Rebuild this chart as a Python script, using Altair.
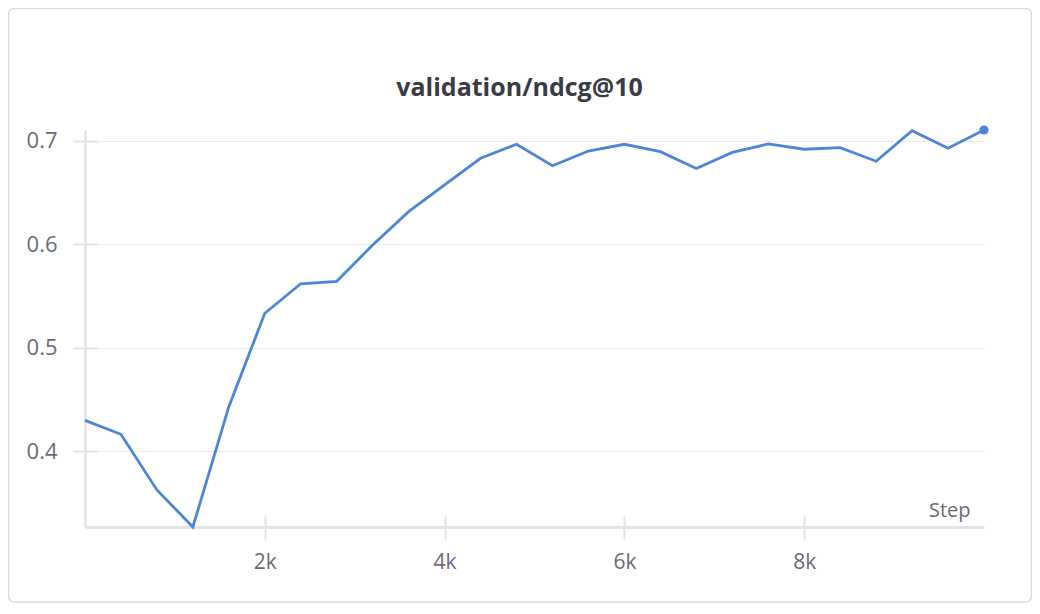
import altair as alt
import pandas as pd

# ---- data ----
steps = [0, 400, 800, 1200, 1600, 2000, 2400, 2800, 3200, 3600, 4000, 4400, 4800,
         5200, 5600, 6000, 6400, 6800, 7200, 7600, 8000, 8400, 8800, 9200, 9600, 10000]
ndcg = [0.430, 0.4166, 0.3628, 0.327, 0.4433, 0.5335, 0.562, 0.5644, 0.5995, 0.6317,
        0.6575, 0.6833, 0.6968, 0.6761, 0.6903, 0.6968, 0.6897, 0.6734, 0.6890, 0.6971,
        0.692, 0.6935, 0.6804, 0.710, 0.693, 0.7106]
x_ticks = [2000, 4000, 6000, 8000]
y_ticks = [0.4, 0.5, 0.6, 0.7]
chart_title = "validation/ndcg@10"
x_title = "Step"

FONT = "Open Sans"
BLUE = "#4d86d6"
AXIS_GREY = "#e3e3e6"
GRID_GREY = "#ececee"
LABEL_GREY = "#6b6b76"
TITLE_GREY = "#3b3b44"

df = pd.DataFrame({"step": steps, "ndcg": ndcg})
df_last = df.tail(1)

x_scale = alt.Scale(domain=[min(steps), max(steps)], nice=False, zero=False)
y_scale = alt.Scale(domain=[min(ndcg), max(ndcg)], nice=False, zero=False)

W, H = 899, 397

x_axis = alt.Axis(
    values=x_ticks, format="~s", orient="bottom",
    title=x_title, titleFont=FONT, titleFontSize=20, titleFontWeight="normal",
    titleColor=LABEL_GREY, titleAnchor="end", titleAlign="right",
    titleBaseline="alphabetic", titleX=885, titleY=-11,
    labelFont=FONT, labelFontSize=21, labelColor=LABEL_GREY, labelPadding=12,
    domainColor=AXIS_GREY, domainWidth=3,
    tickColor=AXIS_GREY, tickWidth=2, tickSize=12,
    grid=False,
)
y_axis = alt.Axis(
    values=y_ticks, format=".1f", orient="left", title="",
    labelFont=FONT, labelFontSize=22, labelColor=LABEL_GREY, labelPadding=16,
    domainColor=AXIS_GREY, domainWidth=2.5,
    tickColor=AXIS_GREY, tickWidth=2, tickSize=12,
    grid=True, gridColor=GRID_GREY, gridWidth=1,
)
x_inner = alt.Axis(values=x_ticks, orient="bottom", title="", labels=False,
                   domain=False, grid=False, offset=-11, tickSize=11,
                   tickColor=AXIS_GREY, tickWidth=2)
y_inner = alt.Axis(values=y_ticks, orient="left", title="", labels=False,
                   domain=False, grid=False, offset=-12, tickSize=12,
                   tickColor=AXIS_GREY, tickWidth=2)

card = alt.Chart(pd.DataFrame({"a": [0]})).mark_rect(
    fillOpacity=0, stroke="#d9d9dc", strokeWidth=1.5, cornerRadius=6
).encode(
    x=alt.value(-76.5), x2=alt.value(946.5), y=alt.value(-121.5), y2=alt.value(472)
)

line = alt.Chart(df).mark_line(color=BLUE, strokeWidth=2.8).encode(
    x=alt.X("step:Q", scale=x_scale, axis=x_axis),
    y=alt.Y("ndcg:Q", scale=y_scale, axis=y_axis),
)

dot = alt.Chart(df_last).mark_circle(color=BLUE, size=85, opacity=1).encode(
    x=alt.X("step:Q", axis=x_inner),
    y=alt.Y("ndcg:Q", axis=y_inner),
)

chart = alt.layer(card, line, dot).resolve_axis(
    x="independent", y="independent"
).properties(
    width=W, height=H,
    autosize=alt.AutoSizeParams(type="none"),
    padding={"left": 77, "top": 122, "right": 48, "bottom": 79},
    background="white",
    title=alt.TitleParams(
        chart_title, font=FONT, fontSize=25, fontWeight="bold", color=TITLE_GREY,
        anchor="middle", dx=-15, offset=-113, baseline="alphabetic",
    ),
).configure_view(strokeWidth=0)

chart.save("out.html", embed_options={"renderer": "svg", "actions": False})
